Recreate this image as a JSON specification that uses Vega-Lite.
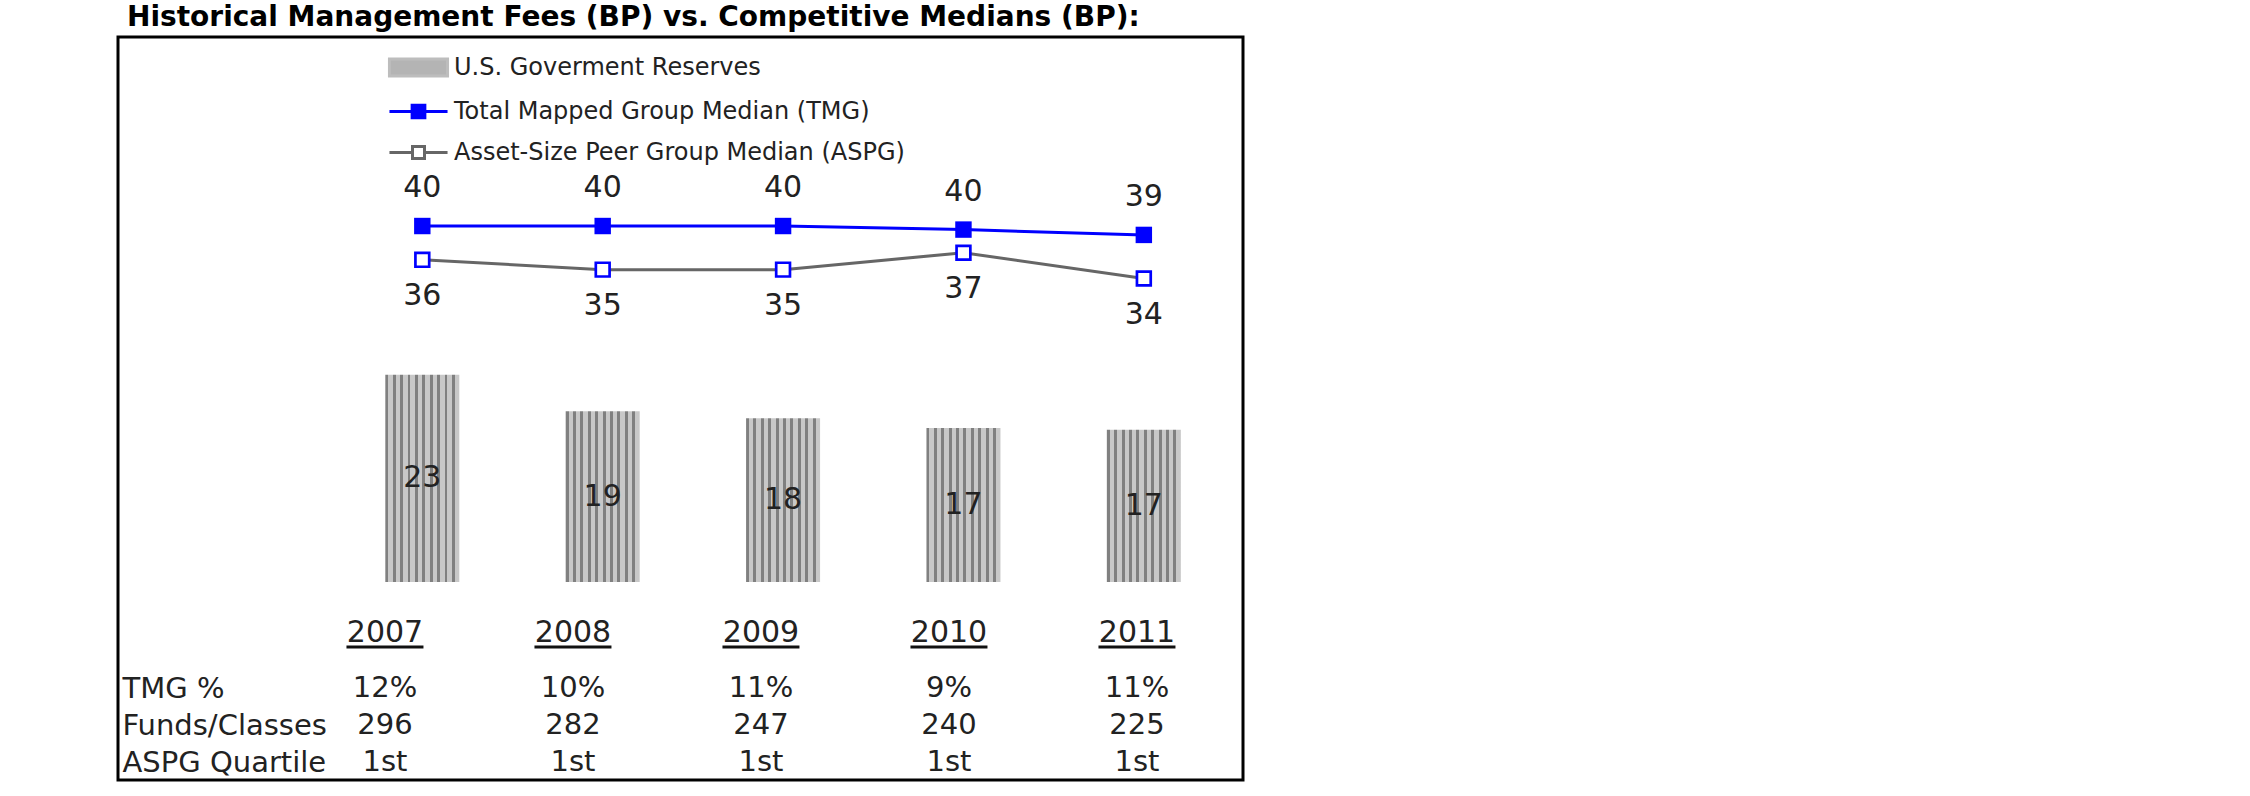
{
  "$schema": "https://vega.github.io/schema/vega-lite/v6.json",
  "width": 1125,
  "height": 743,
  "autosize": {"type": "none"},
  "padding": {"left": 118, "top": 37, "right": 1007, "bottom": 16},
  "background": "white",
  "config": {
    "font": "DejaVu Sans",
    "view": {"stroke": "black", "strokeWidth": 3}
  },
  "title": {
    "text": "Historical Management Fees (BP) vs. Competitive Medians (BP):",
    "anchor": "start",
    "frame": "group",
    "font": "DejaVu Sans",
    "fontSize": 28,
    "fontWeight": "bold",
    "color": "black",
    "baseline": "alphabetic",
    "offset": 8,
    "dx": 9,
    "dy": 25
  },
  "datasets": {
    "main": [
      {"year": 2007, "reserves": 23.3},
      {"year": 2008, "reserves": 19.2},
      {"year": 2009, "reserves": 18.4},
      {"year": 2010, "reserves": 17.3},
      {"year": 2011, "reserves": 17.1}
    ],
    "medians": [
      {"year": 2007, "series": "Total Mapped Group Median (TMG)", "value": 40.0},
      {"year": 2008, "series": "Total Mapped Group Median (TMG)", "value": 40.0},
      {"year": 2009, "series": "Total Mapped Group Median (TMG)", "value": 40.0},
      {"year": 2010, "series": "Total Mapped Group Median (TMG)", "value": 39.6},
      {"year": 2011, "series": "Total Mapped Group Median (TMG)", "value": 39.0},
      {"year": 2007, "series": "Asset-Size Peer Group Median (ASPG)", "value": 36.2},
      {"year": 2008, "series": "Asset-Size Peer Group Median (ASPG)", "value": 35.1},
      {"year": 2009, "series": "Asset-Size Peer Group Median (ASPG)", "value": 35.1},
      {"year": 2010, "series": "Asset-Size Peer Group Median (ASPG)", "value": 37.0},
      {"year": 2011, "series": "Asset-Size Peer Group Median (ASPG)", "value": 34.1}
    ],
    "table": [
      {"year": 2007, "metric": "TMG %", "value": "12%"},
      {"year": 2008, "metric": "TMG %", "value": "10%"},
      {"year": 2009, "metric": "TMG %", "value": "11%"},
      {"year": 2010, "metric": "TMG %", "value": "9%"},
      {"year": 2011, "metric": "TMG %", "value": "11%"},
      {"year": 2007, "metric": "Funds/Classes", "value": "296"},
      {"year": 2008, "metric": "Funds/Classes", "value": "282"},
      {"year": 2009, "metric": "Funds/Classes", "value": "247"},
      {"year": 2010, "metric": "Funds/Classes", "value": "240"},
      {"year": 2011, "metric": "Funds/Classes", "value": "225"},
      {"year": 2007, "metric": "ASPG Quartile", "value": "1st"},
      {"year": 2008, "metric": "ASPG Quartile", "value": "1st"},
      {"year": 2009, "metric": "ASPG Quartile", "value": "1st"},
      {"year": 2010, "metric": "ASPG Quartile", "value": "1st"},
      {"year": 2011, "metric": "ASPG Quartile", "value": "1st"}
    ]
  },
  "layer": [
    {
      "encoding": {
        "x": {"field": "year", "type": "quantitative", "scale": {"domain": [2005.3407, 2011.522], "nice": false, "zero": false}, "axis": null}
      },
      "layer": [
        {
          "data": {"name": "main"},
          "mark": {
            "type": "bar",
            "orient": "vertical",
            "size": 74,
            "fill": {
              "gradient": "linear", "x1": 0, "y1": 0, "x2": 1, "y2": 0,
              "stops": [
                {"offset": 0, "color": "#808080"}, {"offset": 0.04, "color": "#808080"}, {"offset": 0.04, "color": "#c8c8c8"}, {"offset": 0.1, "color": "#c8c8c8"},
                {"offset": 0.1, "color": "#808080"}, {"offset": 0.14, "color": "#808080"}, {"offset": 0.14, "color": "#c8c8c8"}, {"offset": 0.2, "color": "#c8c8c8"},
                {"offset": 0.2, "color": "#808080"}, {"offset": 0.24, "color": "#808080"}, {"offset": 0.24, "color": "#c8c8c8"}, {"offset": 0.3, "color": "#c8c8c8"},
                {"offset": 0.3, "color": "#808080"}, {"offset": 0.34, "color": "#808080"}, {"offset": 0.34, "color": "#c8c8c8"}, {"offset": 0.4, "color": "#c8c8c8"},
                {"offset": 0.4, "color": "#808080"}, {"offset": 0.44, "color": "#808080"}, {"offset": 0.44, "color": "#c8c8c8"}, {"offset": 0.5, "color": "#c8c8c8"},
                {"offset": 0.5, "color": "#808080"}, {"offset": 0.54, "color": "#808080"}, {"offset": 0.54, "color": "#c8c8c8"}, {"offset": 0.6, "color": "#c8c8c8"},
                {"offset": 0.6, "color": "#808080"}, {"offset": 0.64, "color": "#808080"}, {"offset": 0.64, "color": "#c8c8c8"}, {"offset": 0.7, "color": "#c8c8c8"},
                {"offset": 0.7, "color": "#808080"}, {"offset": 0.74, "color": "#808080"}, {"offset": 0.74, "color": "#c8c8c8"}, {"offset": 0.8, "color": "#c8c8c8"},
                {"offset": 0.8, "color": "#808080"}, {"offset": 0.84, "color": "#808080"}, {"offset": 0.84, "color": "#c8c8c8"}, {"offset": 0.9, "color": "#c8c8c8"},
                {"offset": 0.9, "color": "#808080"}, {"offset": 0.94, "color": "#808080"}, {"offset": 0.94, "color": "#c8c8c8"}, {"offset": 1, "color": "#c8c8c8"}
              ]
            }
          },
          "encoding": {
            "y": {"field": "reserves", "type": "quantitative", "scale": {"domain": [-22.25, 61.24], "nice": false, "zero": false}, "axis": null}
          }
        },
        {
          "data": {"name": "main"},
          "mark": {"type": "text", "fontSize": 30, "color": "#222222", "baseline": "middle", "align": "center"},
          "encoding": {
            "y": {"field": "reserves", "type": "quantitative", "stack": "zero", "bandPosition": 0.5},
            "text": {"field": "reserves", "type": "quantitative", "format": ".0f"}
          }
        },
        {
          "mark": {"type": "rule", "color": "black", "strokeWidth": 2.5},
          "encoding": {
            "x": {"datum": 2005.4836, "type": "quantitative"},
            "x2": {"datum": 2011.522},
            "y": {"datum": 0, "type": "quantitative"}
          }
        },
        {
          "data": {"name": "medians"},
          "mark": {"type": "line", "strokeWidth": 3},
          "encoding": {
            "y": {"field": "value", "type": "quantitative"},
            "stroke": {
              "field": "series",
              "type": "nominal",
              "scale": {
                "domain": ["U.S. Goverment Reserves", "Total Mapped Group Median (TMG)", "Asset-Size Peer Group Median (ASPG)"],
                "range": ["#bdbdbd", "#0000ff", "#666666"]
              },
              "legend": {
                "orient": "none",
                "legendX": 287,
                "legendY": 17,
                "title": null,
                "padding": 0,
                "direction": "vertical",
                "labelFont": "DejaVu Sans",
                "labelFontSize": 24,
                "labelColor": "#222222",
                "labelLimit": 0,
                "labelOffset": 22,
                "symbolSize": 576,
                "symbolStrokeWidth": 3,
                "rowPadding": 15,
                "encode": {
                  "symbols": {
                    "update": {
                      "shape": {"signal": "datum.value === 'U.S. Goverment Reserves' ? 'M-2.42,-0.71H2.42V0.71H-2.42Z' : datum.value === 'Total Mapped Group Median (TMG)' ? 'M-2.42,0H2.42M-0.53,-0.53H0.53V0.53H-0.53Z' : 'M-2.42,0H-0.5M0.5,0H2.42M-0.5,-0.5H0.5V0.5H-0.5Z'"},
                      "fill": {"signal": "datum.value === 'U.S. Goverment Reserves' ? '#b4b4b4' : datum.value === 'Total Mapped Group Median (TMG)' ? '#0000ff' : '#ffffff'"},
                      "stroke": {"signal": "datum.value === 'U.S. Goverment Reserves' ? 'transparent' : datum.value === 'Total Mapped Group Median (TMG)' ? '#0000ff' : '#444444'"},
                      "strokeWidth": {"value": 3},
                      "opacity": {"value": 1},
                      "fillOpacity": {"value": 1},
                      "strokeOpacity": {"value": 1}
                    }
                  }
                }
              }
            }
          }
        },
        {
          "data": {"name": "medians"},
          "transform": [{"filter": {"field": "series", "equal": "Total Mapped Group Median (TMG)"}}],
          "mark": {"type": "square", "size": 270, "color": "#0000ff", "filled": true, "opacity": 1},
          "encoding": {
            "y": {"field": "value", "type": "quantitative"}
          }
        },
        {
          "data": {"name": "medians"},
          "transform": [{"filter": {"field": "series", "equal": "Asset-Size Peer Group Median (ASPG)"}}],
          "mark": {"type": "square", "size": 190, "filled": true, "fill": "white", "stroke": "#0000ff", "strokeWidth": 2.7, "opacity": 1},
          "encoding": {
            "y": {"field": "value", "type": "quantitative"}
          }
        },
        {
          "data": {"name": "medians"},
          "transform": [{"filter": {"field": "series", "equal": "Total Mapped Group Median (TMG)"}}],
          "mark": {"type": "text", "fontSize": 30, "color": "#222222", "baseline": "middle", "dy": -38},
          "encoding": {
            "y": {"field": "value", "type": "quantitative"},
            "text": {"field": "value", "type": "quantitative", "format": ".0f"}
          }
        },
        {
          "data": {"name": "medians"},
          "transform": [{"filter": {"field": "series", "equal": "Asset-Size Peer Group Median (ASPG)"}}],
          "mark": {"type": "text", "fontSize": 30, "color": "#222222", "baseline": "middle", "dy": 36},
          "encoding": {
            "y": {"field": "value", "type": "quantitative"},
            "text": {"field": "value", "type": "quantitative", "format": ".0f"}
          }
        }
      ]
    },
    {
      "encoding": {
        "x": {"field": "year", "type": "quantitative", "scale": {"domain": [2005.58, 2011.564], "nice": false, "zero": false}, "axis": null}
      },
      "layer": [
        {
          "data": {"name": "table"},
          "mark": {"type": "text", "fontSize": 29, "color": "#222222", "baseline": "middle", "align": "center"},
          "encoding": {
            "y": {
              "field": "metric",
              "type": "ordinal",
              "scale": {"type": "point", "domain": ["Year", "TMG %", "Funds/Classes", "ASPG Quartile"], "range": [614, 725], "padding": 0},
              "axis": {
                "orient": "left",
                "domain": false,
                "ticks": false,
                "tickSize": 0,
                "grid": false,
                "title": null,
                "labelAlign": "left",
                "labelBaseline": "middle",
                "labelPadding": -4,
                "labelFont": "DejaVu Sans",
                "labelFontSize": 29,
                "labelColor": "#222222",
                "labelLimit": 0,
                "labelOverlap": false,
                "labelExpr": "datum.value === 'Year' ? '' : datum.label"
              }
            },
            "text": {"field": "value", "type": "nominal"}
          }
        },
        {
          "data": {"name": "main"},
          "mark": {"type": "text", "fontSize": 30, "color": "#222222", "baseline": "middle", "align": "center", "dy": -18},
          "encoding": {
            "y": {"datum": "Year", "type": "ordinal"},
            "text": {"field": "year", "type": "nominal"}
          }
        },
        {
          "data": {"name": "main"},
          "mark": {"type": "tick", "orient": "horizontal", "size": 77, "thickness": 3, "color": "#111111", "opacity": 1},
          "encoding": {
            "y": {"datum": "Year", "type": "ordinal"},
            "yOffset": {"value": -4}
          }
        }
      ]
    }
  ],
  "resolve": {"scale": {"x": "independent", "y": "independent"}}
}
